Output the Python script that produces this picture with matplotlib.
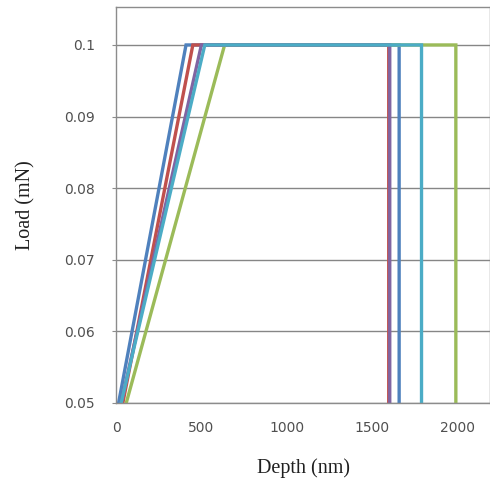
import matplotlib
matplotlib.use("Agg")
import matplotlib.pyplot as plt


# ==============================
# DADOS
# ==============================
SERIES = ["Ensaio 1", "Ensaio 2", "Ensaio 3", "Ensaio 4", "Ensaio 5"]
CORES = ["#4F81BD", "#C0504D", "#9BBB59", "#8064A2", "#4BACC6"]

# profundidade (nm): inicio da carga, fim da carga, fim do patamar, fim da descarga
DEPTH_1 = [15, 410, 1658, 1658]
DEPTH_2 = [40, 450, 1597, 1597]
DEPTH_3 = [60, 636, 1990, 1990]
DEPTH_4 = [30, 500, 1603, 1603]
DEPTH_5 = [30, 520, 1789, 1789]

# carga (mN) nos mesmos pontos
LOAD = [0.05, 0.1, 0.1, 0.05]

Y_TICKS = [0.05, 0.06, 0.07, 0.08, 0.09, 0.1]
Y_LABELS = ["0.05", "0.06", "0.07", "0.08", "0.09", "0.1"]
X_TICKS = [0, 500, 1000, 1500, 2000]


def main():
    profundidades = [DEPTH_1, DEPTH_2, DEPTH_3, DEPTH_4, DEPTH_5]

    fig = plt.figure(figsize=(4.9, 4.86), dpi=100)
    ax = fig.add_axes([116 / 490, 1 - 403 / 486, 374 / 490, 396 / 486])

    for nome, cor, depth in zip(SERIES, CORES, profundidades):
        ax.plot(depth, LOAD, color=cor, linewidth=2.4, label=nome,
                solid_joinstyle="miter")

    ax.set_xlim(0, 2190)
    ax.set_ylim(0.05, 0.1053)

    ax.set_yticks(Y_TICKS)
    ax.set_yticklabels(Y_LABELS)
    ax.set_xticks(X_TICKS)

    ax.yaxis.grid(True, color="#868686", linewidth=1.0)
    ax.set_axisbelow(True)

    for lado in ["left", "bottom", "top", "right"]:
        ax.spines[lado].set_color("#8C8C8C")
        ax.spines[lado].set_linewidth(1.0)

    ax.tick_params(axis="y", length=3, color="#8C8C8C", pad=12,
                   labelsize=10, labelcolor="#505050")
    ax.tick_params(axis="x", length=0, pad=13,
                   labelsize=10, labelcolor="#505050")

    ax.set_xlabel("Depth (nm)", family="Liberation Serif", fontsize=14.5,
                  color="#202020", labelpad=17)
    ax.set_ylabel("Load (mN)", family="Liberation Serif", fontsize=14.5,
                  color="#202020", labelpad=21)

    fig.savefig("out.png", dpi=100)
    plt.close(fig)


if __name__ == "__main__":
    main()
